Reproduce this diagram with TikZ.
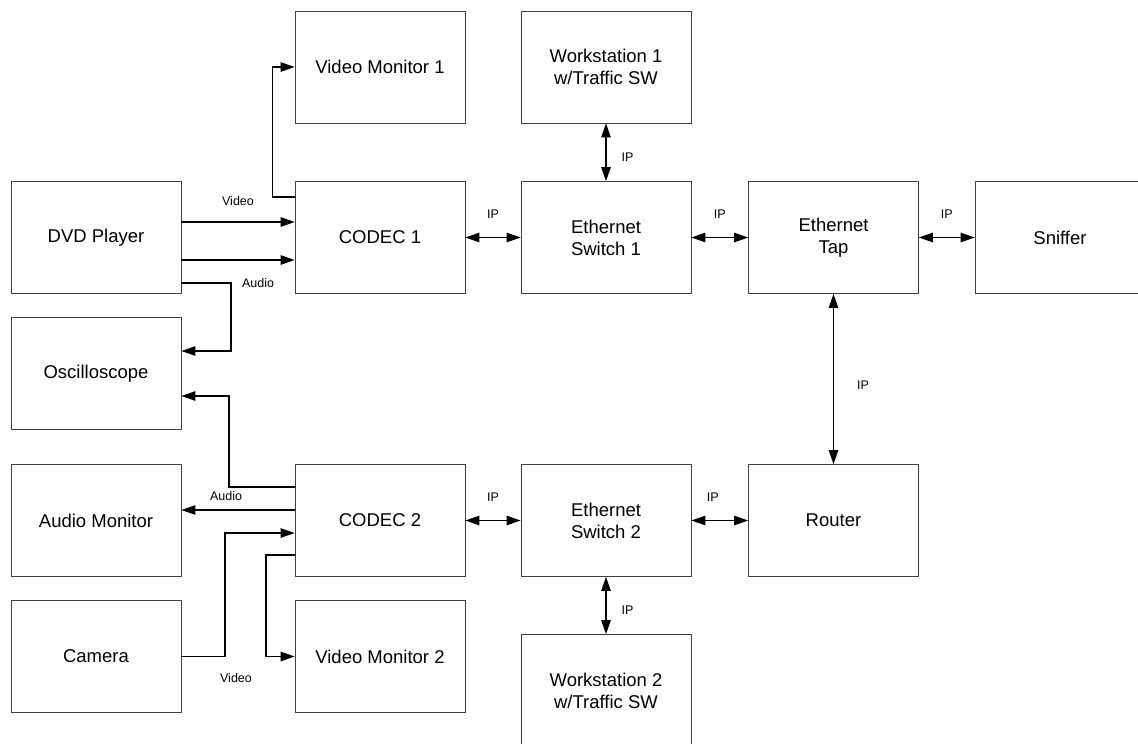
\documentclass[tikz,border=0pt]{standalone}
\usepackage{fontspec}
\setmainfont{Liberation Sans}
\usepackage{tikz}
\usetikzlibrary{arrows.meta,positioning}

\tikzset{
  unit/.style={draw=black!75, line width=0.8pt, minimum width=170pt, minimum height=112pt,
    inner sep=0pt, align=center, font=\fontsize{18.5}{22}\selectfont},
  sig/.style={line width=1.1pt, ->},
  ip/.style={line width=1.1pt, <->},
  tag/.style={inner sep=0pt, font=\fontsize{12.5}{15}\selectfont},
  >={Triangle[length=14pt,width=9.5pt]}
}

\begin{document}
\begin{tikzpicture}[x=1pt, y=-1pt]
\useasboundingbox (0,0) rectangle (1138,744);
%%%%% Units %%%%%
\node[unit] (vmonA)   at (380,67)      {Video Monitor 1};
\node[unit] (wsA)     at (606,67)      {Workstation 1\\w/Traffic SW};
\node[unit] (dvd)     at (96,237.5)    {DVD Player};
\node[unit] (codecA)  at (380,237.5)   {CODEC 1};
\node[unit] (switchA) at (606,237.5)   {Ethernet\\Switch 1};
\node[unit] (tap)     at (833.5,237.5) {Ethernet\\Tap};
\node[unit] (sniffer) at (1060,237.5)  {Sniffer};
\node[unit] (scope)   at (96,373.5)    {Oscilloscope};
\node[unit] (audmon)  at (96,520.5)    {Audio Monitor};
\node[unit] (codecB)  at (380,520.5)   {CODEC 2};
\node[unit] (switchB) at (606,520.5)   {Ethernet\\Switch 2};
\node[unit] (router)  at (833.5,520.5) {Router};
\node[unit] (camera)  at (96,656.5)    {Camera};
\node[unit] (vmonB)   at (380,656.5)   {Video Monitor 2};
\node[unit] (wsB)     at (606,690.5)   {Workstation 2\\w/Traffic SW};
%%%%% Audio / video %%%%%
\draw[sig] (codecA.west |- 0,197) -- ++(-22,0) |- (vmonA.west);
\draw[sig] (dvd.east |- 0,222) -- node[tag, above=15.5pt] (vidA) {Video} (codecA.west |- 0,222);
\draw[sig] (dvd.east |- 0,260) -- (codecA.west |- 0,260);
\draw[sig] (dvd.east |- 0,283) -- (231,283) |- (scope.east |- 0,351);
\node[tag] (audA) at (258,283) {Audio};
\draw[sig] (codecB.west |- 0,487) -- (229,487) |- (scope.east |- 0,396);
\draw[sig] (codecB.west |- 0,510) -- node[tag, above=8.5pt, xshift=-12pt] (audB) {Audio} (audmon.east |- 0,510);
\draw[sig] (camera.east) -- (225,656.5) |- (codecB.west |- 0,533);
\draw[sig] (codecB.west |- 0,555) -- (266,555) |- (vmonB.west);
\node[tag] (vidB) at (236,678) {Video};
%%%%% IP links %%%%%
\draw[ip] (codecA) -- node[tag, above=18pt] (ipA) {IP} (switchA);
\draw[ip] (switchA) -- node[tag, above=18pt] (ipB) {IP} (tap);
\draw[ip] (tap) -- node[tag, above=18pt] (ipC) {IP} (sniffer);
\draw[ip] (wsA) -- node[tag, pos=0.58, right=15pt] (ipD) {IP} (switchA);
\draw[ip] (tap) -- node[tag, pos=0.535, right=23pt] (ipE) {IP} (router);
\draw[ip] (codecB) -- node[tag, above=18pt] (ipF) {IP} (switchB);
\draw[ip] (switchB) -- node[tag, above=18pt, xshift=-7pt] (ipG) {IP} (router);
\draw[ip] (switchB) -- node[tag, pos=0.58, right=15pt] (ipH) {IP} (wsB);
\end{tikzpicture}
\end{document}
